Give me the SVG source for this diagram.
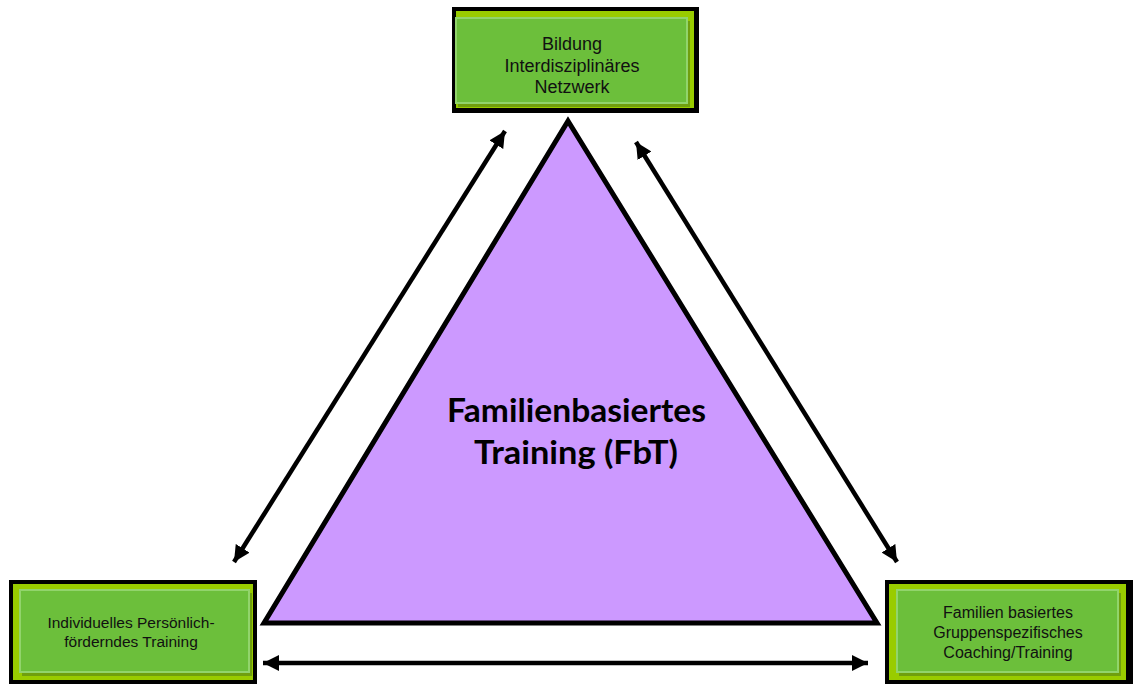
<svg xmlns="http://www.w3.org/2000/svg" width="1133" height="684" viewBox="0 0 1133 684">
<style>
.outer{fill:#000;}
.yg{fill:#99cc00;}
.shadow{fill:#4f7a1a;opacity:0.55;}
.green{fill:#6cbf3b;stroke:#92d46c;stroke-width:2;}
.lbl{font-family:"Liberation Sans",Arial,sans-serif;fill:#111;text-anchor:middle;}
.conn{stroke:#000;stroke-width:4.5;fill:none;marker-start:url(#ah);marker-end:url(#ah);}
.title{font-family:Lato,"Open Sans",sans-serif;font-weight:bold;font-size:32px;fill:#000;text-anchor:middle;}
</style>
<defs>
<marker id="ah" viewBox="0 0 10 10" refX="10" refY="5" markerWidth="3.6" markerHeight="3.6" orient="auto-start-reverse" markerUnits="strokeWidth">
<path d="M0,0 L10,5 L0,10 z" fill="#000"/>
</marker>
</defs>
<rect width="1133" height="684" fill="#fff"/>
<g id="triangle">
<polygon points="568,121 264,623 877,623" fill="#cc99ff" stroke="#000" stroke-width="5" stroke-linejoin="miter"/>
<text class="title" x="576.5" y="422" textLength="259" lengthAdjust="spacingAndGlyphs">Familienbasiertes</text>
<text class="title" x="576" y="464" textLength="204" lengthAdjust="spacingAndGlyphs">Training (FbT)</text>
</g>
<g id="connectors">
<line class="conn" x1="234" y1="562" x2="505" y2="131"/>
<line class="conn" x1="636" y1="142" x2="897" y2="562"/>
<line class="conn" x1="263" y1="663" x2="868" y2="663"/>
</g>
<g id="node-top">
<rect class="outer" x="452" y="7" width="247" height="106"/>
<rect class="yg" x="456" y="11" width="238" height="97"/>
<rect class="shadow" x="458" y="21" width="232" height="86"/>
<rect class="green" x="456" y="18" width="231" height="85"/>
<text class="lbl" font-size="18" x="572" y="50">Bildung</text>
<text class="lbl" font-size="18" x="572" y="72">Interdisziplinäres</text>
<text class="lbl" font-size="18" x="572" y="93">Netzwerk</text>
</g>
<g id="node-left">
<rect class="outer" x="9" y="580" width="248" height="104"/>
<rect class="yg" x="13" y="584" width="240" height="96"/>
<rect class="shadow" x="22" y="593" width="230" height="83"/>
<rect class="green" x="20" y="590" width="229" height="82"/>
<text class="lbl" font-size="15.5" x="131" y="628">Individuelles Persönlich-</text>
<text class="lbl" font-size="15.5" x="131" y="647">förderndes Training</text>
</g>
<g id="node-right">
<rect class="outer" x="885" y="580" width="248" height="104"/>
<rect class="yg" x="889" y="584" width="237" height="96"/>
<rect class="shadow" x="899" y="593" width="222" height="83"/>
<rect class="green" x="897" y="590" width="221" height="82"/>
<text class="lbl" font-size="16" x="1008" y="618">Familien basiertes</text>
<text class="lbl" font-size="16" x="1008" y="638">Gruppenspezifisches</text>
<text class="lbl" font-size="16" x="1008" y="658">Coaching/Training</text>
</g>
</svg>
